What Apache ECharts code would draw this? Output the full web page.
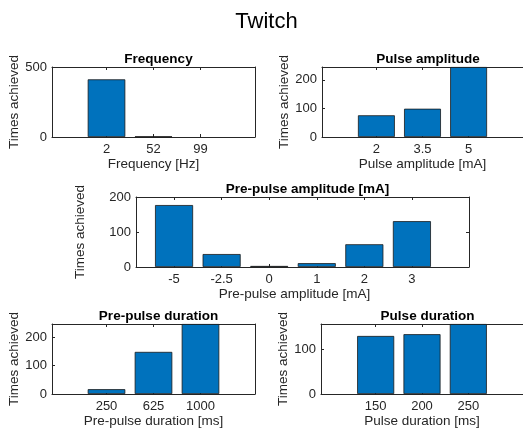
<!DOCTYPE html>
<html>
<head>
<meta charset="utf-8">
<script src="https://cdn.jsdelivr.net/npm/echarts@6/dist/echarts.min.js"></script>
<style>
  html, body { margin: 0; padding: 0; background: #fff; }
  #chart { width: 523px; height: 434px; }
</style>
</head>
<body>
<div id="chart"></div>
<script>
// Counts of how many times each stimulation setting achieved a twitch
const freqLabels = ['2', '52', '99'];
const freqCounts = [412, 4, 0];

const pulseAmpLabels = ['2', '3.5', '5'];
const pulseAmpCounts = [76, 99, 245];

const prePulseAmpLabels = ['-5', '-2.5', '0', '1', '2', '3'];
const prePulseAmpCounts = [177, 37, 3, 11, 65, 131];

const prePulseDurLabels = ['250', '625', '1000'];
const prePulseDurCounts = [17, 148, 246];

const pulseDurLabels = ['150', '200', '250'];
const pulseDurCounts = [131, 135, 158];

const FONT = '"Liberation Sans", Arial, Helvetica, sans-serif';
const AX = '#262626';
const BAR = '#0072BD';

// Panel layout: box = [left, top, width, height]
const panels = [
  { title: 'Frequency', xName: 'Frequency [Hz]', labels: freqLabels, counts: freqCounts,
    box: [52, 67, 203, 70], xMin: -0.16, xMax: 4.16, yMax: 500, yStep: 500,
    xNameGap: 20, yNameGap: 27 },
  { title: 'Pulse amplitude', xName: 'Pulse amplitude [mA]', labels: pulseAmpLabels, counts: pulseAmpCounts,
    box: [322, 67, 202, 70], xMin: -0.18, xMax: 4.18, yMax: 'dataMax', yStep: 100,
    xNameGap: 20, yNameGap: 27 },
  { title: 'Pre-pulse amplitude [mA]', xName: 'Pre-pulse amplitude [mA]', labels: prePulseAmpLabels, counts: prePulseAmpCounts,
    box: [136, 197, 333, 70], xMin: 0.2, xMax: 7.2, yMax: 200, yStep: 100,
    xNameGap: 17, yNameGap: 49, xNameShift: 8 },
  { title: 'Pre-pulse duration', xName: 'Pre-pulse duration [ms]', labels: prePulseDurLabels, counts: prePulseDurCounts,
    box: [52, 324, 203, 70], xMin: -0.16, xMax: 4.16, yMax: 'dataMax', yStep: 100,
    xNameGap: 15.5, yNameGap: 27 },
  { title: 'Pulse duration', xName: 'Pulse duration [ms]', labels: pulseDurLabels, counts: pulseDurCounts,
    box: [321, 324, 203, 70], xMin: -0.18, xMax: 4.18, yMax: 'dataMax', yStep: 100,
    xNameGap: 15.5, yNameGap: 27 }
];

const grid = [], xAxis = [], yAxis = [], series = [], titles = [];

titles.push({
  text: 'Twitch', left: 261.5, top: 6, textAlign: 'center',
  textStyle: { fontFamily: FONT, fontSize: 22, fontWeight: 'normal', color: '#000' }
});

panels.forEach((p, i) => {
  const [l, t, w, h] = p.box;
  const ticks = p.labels.map((_, k) => k + 1);
  grid.push({ left: l, top: t, width: w, height: h, containLabel: false });

  const lineStyle = { color: AX, width: 1 };
  const tickStyle = { show: true, inside: true, length: 3, lineStyle: { color: AX, width: 1 } };

  // bottom x axis with the setting values
  xAxis.push({
    gridIndex: i, type: 'value', position: 'bottom', min: p.xMin, max: p.xMax,
    splitLine: { show: false },
    axisLine: { show: true, onZero: false, lineStyle },
    axisTick: Object.assign({ customValues: ticks }, tickStyle),
    axisLabel: {
      customValues: ticks, margin: 6, color: AX, fontSize: 13, fontFamily: FONT,
      formatter: v => p.labels[Math.round(v) - 1]
    },
    name: p.xName, nameLocation: 'middle', nameGap: p.xNameGap,
    nameTextStyle: { color: AX, fontSize: 13.5, fontFamily: FONT,
      padding: p.xNameShift ? [0, p.xNameShift * 2, 0, 0] : 0 }
  });
  // top edge of the box
  xAxis.push({
    gridIndex: i, type: 'value', position: 'top', min: p.xMin, max: p.xMax,
    splitLine: { show: false },
    axisLine: { show: true, onZero: false, lineStyle },
    axisTick: Object.assign({ customValues: ticks }, tickStyle),
    axisLabel: { show: false }
  });

  const yCommon = {
    gridIndex: i, type: 'value', min: 0, max: p.yMax, interval: p.yStep,
    splitLine: { show: false },
    axisLine: { show: true, onZero: false, lineStyle },
    axisTick: tickStyle
  };
  yAxis.push(Object.assign({}, yCommon, {
    position: 'left',
    axisLabel: { margin: 5, color: AX, fontSize: 13, fontFamily: FONT,
      showMaxLabel: p.yMax !== 'dataMax' },
    name: 'Times achieved', nameLocation: 'middle', nameGap: p.yNameGap, nameRotate: 90,
    nameTextStyle: { color: AX, fontSize: 13.5, fontFamily: FONT }
  }));
  yAxis.push(Object.assign({}, yCommon, {
    position: 'right', axisLabel: { show: false }
  }));

  series.push({
    type: 'bar', xAxisIndex: 2 * i, yAxisIndex: 2 * i,
    // an empty count draws no outline on the baseline
    data: p.counts.map((v, k) => v === 0
      ? { value: [k + 1, v], itemStyle: { borderWidth: 0 } }
      : [k + 1, v]),
    barWidth: '80%',
    itemStyle: { color: BAR, borderColor: '#1a1a1a', borderWidth: 0.8 },
    emphasis: { disabled: true }
  });

  titles.push({
    text: p.title, left: l + w / 2, top: t - 20, textAlign: 'center',
    textStyle: { fontFamily: FONT, fontSize: 13.5, fontWeight: 'bold', color: '#000' }
  });
});

const chart = echarts.init(document.getElementById('chart'), null, { renderer: 'canvas' });
chart.setOption({
  backgroundColor: '#fff',
  animation: false,
  title: titles,
  grid, xAxis, yAxis, series
});
</script>
</body>
</html>
